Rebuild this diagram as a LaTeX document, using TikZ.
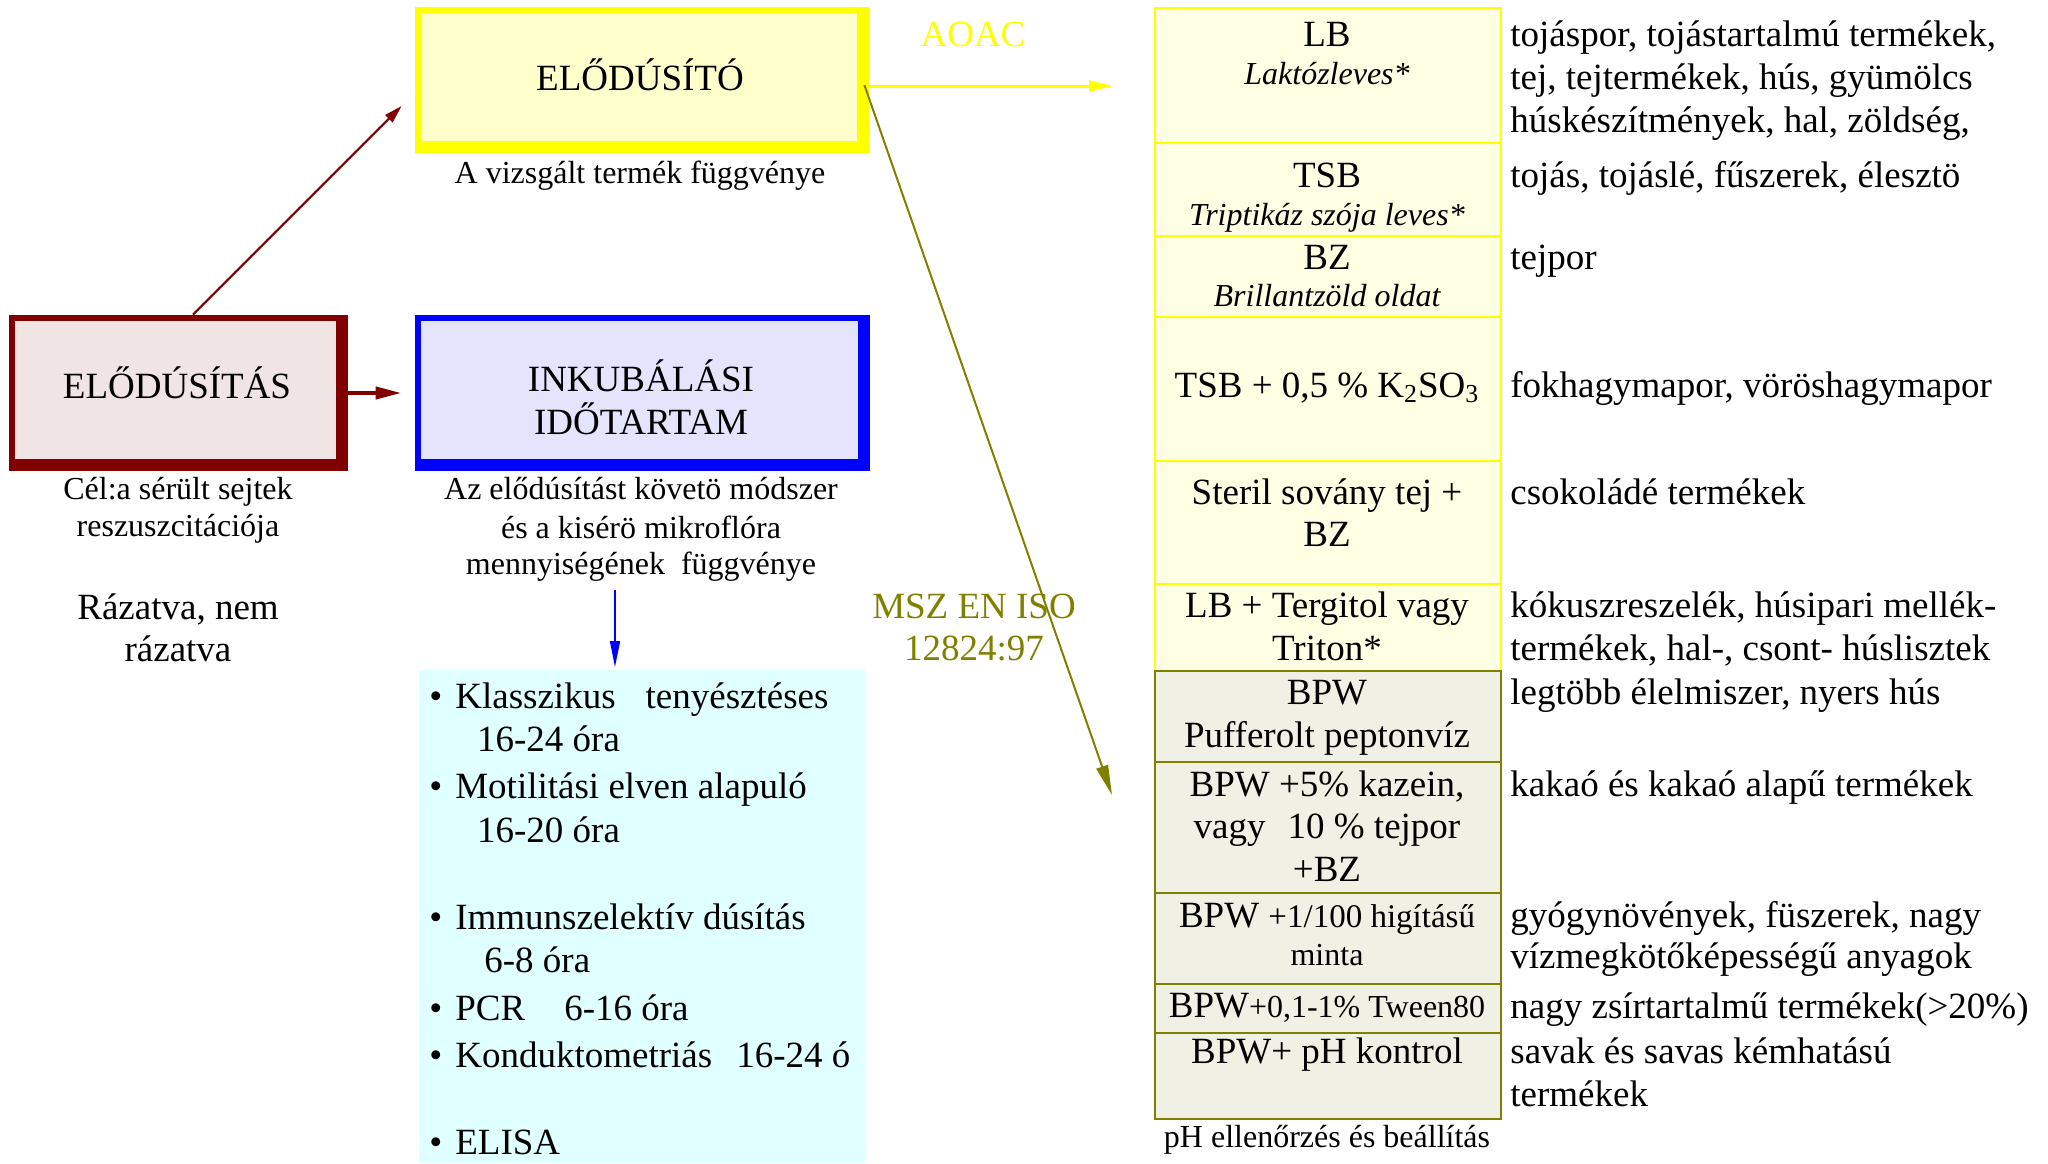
\documentclass[tikz,border=0pt]{standalone}
\usepackage{fontspec}
\setmainfont{Liberation Serif}
\usetikzlibrary{arrows.meta,calc}
\definecolor{cyellow}{HTML}{FFFF00}
\definecolor{elofill}{HTML}{FFFFCC}
\definecolor{cdarkred}{HTML}{800000}
\definecolor{pinkfill}{HTML}{F0E4E4}
\definecolor{cblue}{HTML}{0000FF}
\definecolor{lavfill}{HTML}{E4E4FC}
\definecolor{cyanfill}{HTML}{E0FFFF}
\definecolor{tabyellow}{HTML}{FFFFE4}
\definecolor{colive}{HTML}{808000}
\definecolor{olivefill}{HTML}{F0F0E4}
\begin{document}
\begin{tikzpicture}[x=0.5pt,y=-0.5pt,
  big/.style={inner sep=0pt, anchor=base, font=\fontsize{18.5}{22}\selectfont},
  bigl/.style={big, anchor=base west},
  small/.style={inner sep=0pt, anchor=base, font=\fontsize{16}{19}\selectfont},
  smalli/.style={small, font=\fontsize{16}{19}\selectfont\itshape},
  boxnode/.style={inner sep=0pt, draw=none},
  yrow/.style={draw=cyellow, fill=tabyellow, line width=1pt, anchor=north west, minimum width=173pt, inner sep=0pt},
  orow/.style={draw=colive, fill=olivefill, line width=1.2pt, anchor=north west, minimum width=173pt, inner sep=0pt}
]
\useasboundingbox (0,0) rectangle (2048,1163);

% ---- ELODUSITO box (yellow)
\fill[cyellow] (415,7) rectangle (869,153);
\fill[elofill] (421,13) rectangle (857,141);
\node[boxnode, minimum width=227pt, minimum height=73pt] (elobox) at (642,80) {};
\node[big] (elotxt) at (640,90) {ELŐDÚSÍTÓ};
\node[small] (elocap) at (640,183) {A vizsgált termék függvénye};
\node[big, text=cyellow] (aoac) at (973,46) {AOAC};

% ---- ELODUSITAS box (dark red)
\fill[cdarkred] (9,315) rectangle (348,471);
\fill[pinkfill] (15,321) rectangle (336,459);
\node[boxnode, minimum width=169.5pt, minimum height=78pt] (redbox) at (178.5,393) {};
\node[big] (redtxt) at (177,398) {ELŐDÚSÍTÁS};
\node[small] (redcap1) at (178,499) {Cél:a sérült sejtek};
\node[small] (redcap2) at (178,536) {reszuszcitációja};
\node[big] (raz1) at (178,619) {Rázatva, nem};
\node[big] (raz2) at (178,661) {rázatva};

% ---- INKUBALASI box (blue)
\fill[cblue] (415,315) rectangle (870,471);
\fill[lavfill] (421,321) rectangle (858,459);
\node[boxnode, minimum width=227.5pt, minimum height=78pt] (bluebox) at (642.5,393) {};
\node[big] (ink1) at (641,391) {INKUBÁLÁSI};
\node[big] (ink2) at (641,434) {IDŐTARTAM};
\node[small] (inkcap1) at (641,499) {Az elődúsítást követö módszer};
\node[small] (inkcap2) at (641,538) {és a kisérö mikroflóra};
\node[small] (inkcap3) at (641,574) {mennyiségének\ \ függvénye};

% ---- cyan list box
\node[fill=cyanfill, minimum width=223pt, minimum height=246.5pt, anchor=north west, inner sep=0pt] (cyanbox) at (419,670) {};
\node[bigl] (b1) at (429,708) {\textbullet\hspace{6.5pt}Klasszikus\hspace{15pt}tenyésztéses};
\node[bigl] (b1b) at (476.7,751) {16-24 óra};
\node[bigl] (b2) at (429,798.6) {\textbullet\hspace{6.5pt}Motilitási elven alapuló};
\node[bigl] (b2b) at (476.7,842) {16-20 óra};
\node[bigl] (b3) at (429,929.5) {\textbullet\hspace{6.5pt}Immunszelektív dúsítás};
\node[bigl] (b3b) at (484,972) {6-8 óra};
\node[bigl] (b4) at (429,1020.5) {\textbullet\hspace{6.5pt}PCR\hspace{19.5pt}6-16 óra};
\node[bigl] (b5) at (429,1067) {\textbullet\hspace{6.5pt}Konduktometriás\hspace{12pt}16-24 ó};
\node[bigl] (b6) at (429,1154) {\textbullet\hspace{6.5pt}ELISA};

% ---- table rows
\node[yrow, minimum height=67.5pt] (r1) at (1154,7) {};
\node[yrow, minimum height=46.5pt] (r2) at (1154,142) {};
\node[yrow, minimum height=40.5pt] (r3) at (1154,235) {};
\node[yrow, minimum height=72pt] (r4) at (1154,316) {};
\node[yrow, minimum height=61.5pt] (r5) at (1154,460) {};
\node[yrow, minimum height=43.5pt] (r6) at (1154,583) {};
\node[orow, minimum height=45.5pt] (r7) at (1154,670) {};
\node[orow, minimum height=65.5pt] (r8) at (1154,761) {};
\node[orow, minimum height=45.5pt] (r9) at (1154,892) {};
\node[orow, minimum height=24.5pt] (r10) at (1154,983) {};
\node[orow, minimum height=43pt] (r11) at (1154,1032) {};

\node[big] (t1a) at (1327,46) {LB};
\node[smalli] (t1b) at (1327,84) {Laktózleves*};
\node[big] (t2a) at (1327,187) {TSB};
\node[smalli] (t2b) at (1327,225) {Triptikáz szója leves*};
\node[big] (t3a) at (1327,269) {BZ};
\node[smalli] (t3b) at (1327,306) {Brillantzöld oldat};
\node[big] (t4a) at (1327,397) {TSB + 0,5 \% K\textsubscript{2}SO\textsubscript{3}};
\node[big] (t5a) at (1327,504) {Steril sovány tej +};
\node[big] (t5b) at (1327,546) {BZ};
\node[big] (t6a) at (1327,617) {LB + Tergitol vagy};
\node[big] (t6b) at (1327,660) {Triton*};
\node[big] (t7a) at (1327,704) {BPW};
\node[big] (t7b) at (1327,747) {Pufferolt peptonvíz};
\node[big] (t8a) at (1327,796) {BPW +5\% kazein,};
\node[big] (t8b) at (1327,838) {vagy\hspace{11pt}10 \% tejpor};
\node[big] (t8c) at (1327,881) {+BZ};
\node[big] (t9a) at (1327,927) {BPW {\fontsize{16.5}{19}\selectfont +1/100 higításű}};
\node[small] (t9b) at (1327,965) {minta};
\node[big] (t10a) at (1327,1017) {BPW{\fontsize{16}{19}\selectfont +0,1-1\% Tween80}};
\node[big] (t11a) at (1327,1063) {BPW+ pH kontrol};
\node[small] (tabcap) at (1327,1147) {pH ellenőrzés és beállítás};

% ---- descriptions
\node[bigl] (d1a) at (1510,46) {tojáspor, tojástartalmú termékek,};
\node[bigl] (d1b) at (1510,89) {tej, tejtermékek, hús, gyümölcs};
\node[bigl] (d1c) at (1510,132) {húskészítmények, hal, zöldség,};
\node[bigl] (d2) at (1510,187) {tojás, tojáslé, fűszerek, élesztö};
\node[bigl] (d3) at (1510,269) {tejpor};
\node[bigl] (d4) at (1510,397) {fokhagymapor, vöröshagymapor};
\node[bigl] (d5) at (1510,504) {csokoládé termékek};
\node[bigl] (d6a) at (1510,617) {kókuszreszelék, húsipari mellék-};
\node[bigl] (d6b) at (1510,660) {termékek, hal-, csont- húslisztek};
\node[bigl] (d7) at (1510,704) {legtöbb élelmiszer, nyers hús};
\node[bigl] (d8) at (1510,796) {kakaó és kakaó alapű termékek};
\node[bigl] (d9a) at (1510,927) {gyógynövények, füszerek, nagy};
\node[bigl] (d9b) at (1510,968) {vízmegkötőképességű anyagok};
\node[bigl] (d10) at (1510,1018) {nagy zsírtartalmű termékek(>20\%)};
\node[bigl] (d11a) at (1510,1063) {savak és savas kémhatású};
\node[bigl] (d11b) at (1510,1106) {termékek};

% ---- MSZ label
\node[big, text=colive] (msz1) at (974,618) {MSZ EN ISO};
\node[big, text=colive] (msz2) at (974,660) {12824:97};

% ---- connectors
\coordinate (eloout) at ($(elobox.east)+(0,6)$);
\coordinate (yend) at (1113,86);
\coordinate (oend) at (1112,795);
\coordinate (bluestart) at (615,590);
\draw[cyellow, line width=1.5pt, -{Triangle[length=12pt,width=5.5pt]}] (eloout) -- (yend);
\draw[colive, line width=1pt, -{Triangle[length=15pt,width=6pt]}] ($(elobox.east)+(-5,5)$) -- (oend);
\draw[cdarkred, line width=1.1pt, -{Triangle[length=9pt,width=5pt]}] ($(redbox.north)+(14.5,0)$) -- ($(elobox.west)+(-13,26)$);
\draw[cdarkred, line width=2pt, shorten >=6.5pt, -{Triangle[length=13pt,width=6pt]}] (redbox.east) -- (bluebox.west);
\draw[cblue, line width=0.75pt, shorten >=1.5pt, -{Triangle[length=13pt,width=5pt]}] (bluestart) -- (bluestart |- cyanbox.north);
\end{tikzpicture}
\end{document}
